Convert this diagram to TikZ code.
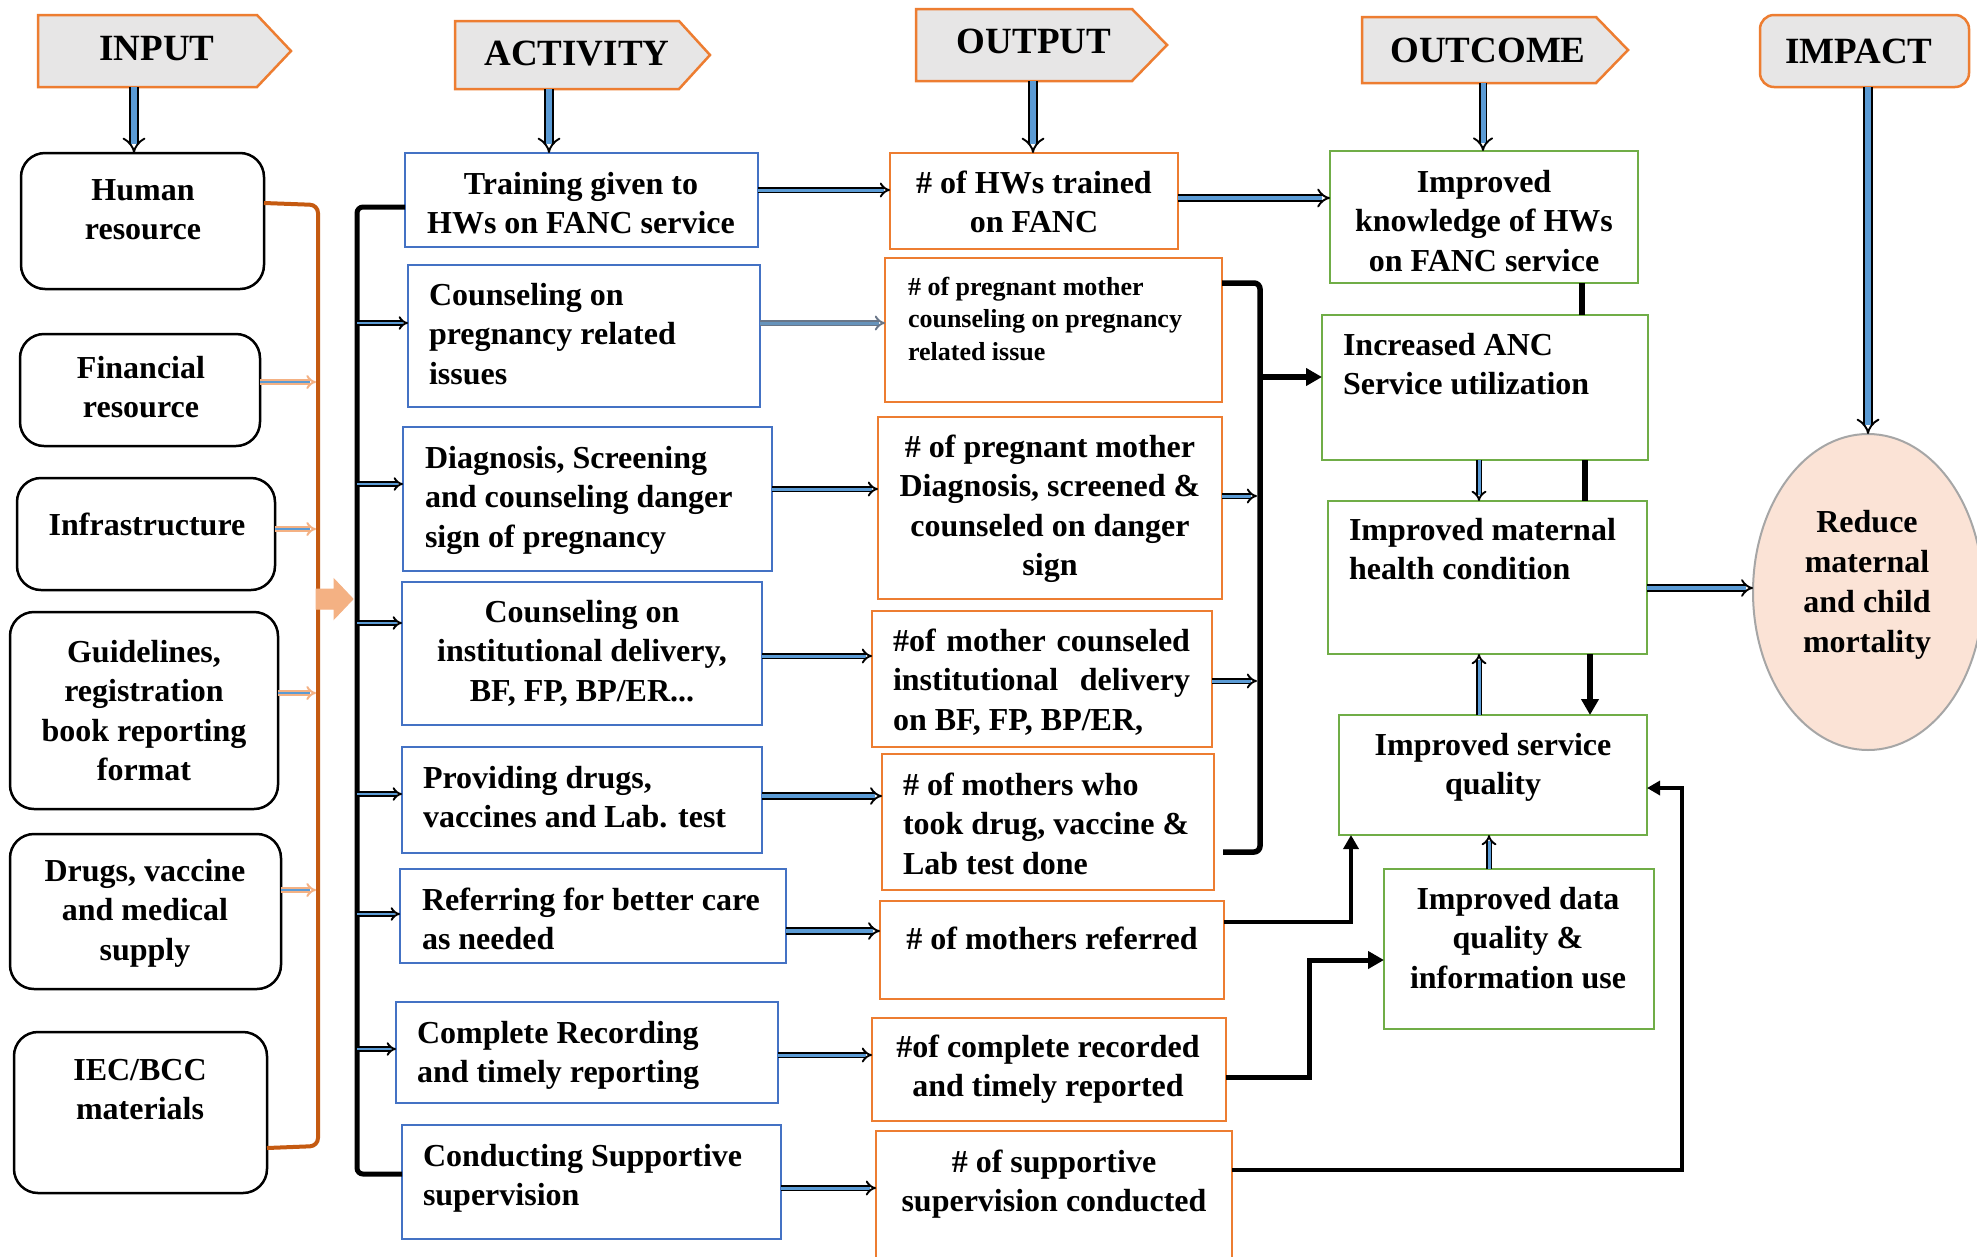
\documentclass[tikz,border=0pt]{standalone}
\usepackage{fontspec}
\setmainfont{Liberation Serif}
\usetikzlibrary{arrows.meta,shapes.geometric}

\definecolor{cBlue}{HTML}{5B9BD5}
\definecolor{cAct}{HTML}{4472C4}
\definecolor{cOut}{HTML}{ED7D31}
\definecolor{cGrn}{HTML}{70AD47}
\definecolor{cHdr}{HTML}{E7E6E6}
\definecolor{cBrk}{HTML}{C55A11}
\definecolor{cOrL}{HTML}{F4B183}
\definecolor{cPeach}{HTML}{FBE3D6}
\definecolor{cEll}{HTML}{A6A6A6}
\definecolor{cSlate}{HTML}{44546A}

\newcommand\mystrut{\rule{0pt}{0.8em}}
\newcommand\mkbox[6]{\node[#1, minimum width={(#5)-(#3)}, minimum height={(#6)-(#4)}] (#2) at ({((#3)+(#5))/2},{((#4)+(#6))/2}) {};}
\newcommand\mktxt[5]{\node[#1] (#2) at ({#3},{#4}) {\mystrut #5};}

\tikzset{
 every node/.style={inner sep=0pt, outer sep=0pt},
 inbox/.style={draw=black, line width=2.5pt, rounded corners=24pt},
 actbox/.style={draw=cAct, line width=2.5pt},
 outbox/.style={draw=cOut, line width=2.5pt},
 ocbox/.style={draw=cGrn, line width=2.5pt},
 hdr/.style={draw=cOut, fill=cHdr, line width=2.5pt},
 ttl/.style={font=\fontsize{37}{44}\selectfont\bfseries, anchor=north},
 tc/.style={font=\fontsize{32}{39.5}\selectfont\bfseries, align=center, anchor=north},
 tl/.style={font=\fontsize{32}{39.5}\selectfont\bfseries, align=left, anchor=north west},
 ts/.style={font=\fontsize{26}{32.5}\selectfont\bfseries, align=left, anchor=north west},
 barr/.style={draw=black, double=cBlue, double distance=#1, line width=1.9pt, -{Implies}},
 barr/.default=3pt,
 oarr/.style={draw=cOrL, double=cBlue, double distance=2.5pt, line width=2pt, -{Implies}},
 sarr/.style={draw=cSlate!80, double=cBlue!70!gray, double distance=3pt, line width=1.9pt, -{Implies}},
 karr/.style={draw=black, line width=#1, -{Triangle[length=16pt,width=17pt]}},
 kline/.style={draw=black, line width=#1},
}

\begin{document}
\begin{tikzpicture}[x=1pt,y=-1pt]
\fill[white] (0,0) rectangle (1977,1256);
\useasboundingbox (0,0) rectangle (1977,1256);

% headers
\draw[hdr] (38,15) -- (257,15) -- (291,51) -- (257,87) -- (38,87) -- cycle;
\draw[hdr] (455,21) -- (679,21) -- (710,55) -- (679,89) -- (455,89) -- cycle;
\draw[hdr] (916,9) -- (1132,9) -- (1167,45) -- (1132,81) -- (916,81) -- cycle;
\draw[hdr] (1362,17) -- (1596,17) -- (1628,50) -- (1596,83) -- (1362,83) -- cycle;
\node[hdr, rounded corners=14pt, minimum width=209, minimum height=72] (hImp) at (1864.5,51) {};
\mktxt{ttl}{tIn}{157}{30.4}{INPUT}
\mktxt{ttl}{tAct}{577}{35.4}{ACTIVITY}
\mktxt{ttl}{tOut}{1034}{23.4}{OUTPUT}
\mktxt{ttl}{tOc}{1488}{32.4}{OUTCOME}
\mktxt{ttl}{tImp}{1859}{33.4}{IMPACT}
\coordinate (aIn) at (134,87);
\coordinate (aAct) at (549,89);
\coordinate (aOut) at (1033,81);
\coordinate (aOc) at (1483,83);

% input boxes
\mkbox{inbox}{hum}{21}{153}{264}{289}
\mkbox{inbox}{fin}{20}{334}{260}{446}
\mkbox{inbox}{inf}{17}{478}{275}{590}
\mkbox{inbox}{gui}{10}{612}{278}{809}
\mkbox{inbox}{drg}{10}{834}{281}{989}
\mkbox{inbox}{iec}{14}{1032}{267}{1193}
\mktxt{tc}{thum}{143}{174.4}{Human\\resource}
\mktxt{tc}{tfin}{141}{352.4}{Financial\\resource}
\mktxt{tc}{tinf}{147}{509.4}{Infrastructure}
\mktxt{tc}{tgui}{144}{636.4}{Guidelines,\\registration\\book reporting\\format}
\mktxt{tc}{tdrg}{145}{855.4}{Drugs, vaccine\\and medical\\supply}
\mktxt{tc}{tiec}{140}{1054.4}{IEC/BCC\\materials}

% activity boxes
\mkbox{actbox}{a1}{405}{153}{758}{247}
\mkbox{actbox}{a2}{408}{265}{760}{407}
\mkbox{actbox}{a3}{403}{427}{772}{571}
\mkbox{actbox}{a4}{402}{582}{762}{725}
\mkbox{actbox}{a5}{402}{747}{762}{853}
\mkbox{actbox}{a6}{400}{869}{786}{963}
\mkbox{actbox}{a7}{396}{1002}{778}{1103}
\mkbox{actbox}{a8}{402}{1125}{781}{1239}
\mktxt{tc}{ta1}{581}{168.4}{Training given to\\HWs on FANC service}
\mktxt{tl}{ta2}{429}{279.4}{Counseling on\\pregnancy related\\issues}
\mktxt{tl}{ta3}{425}{442.4}{Diagnosis, Screening\\and counseling danger\\sign of pregnancy}
\mktxt{tc}{ta4}{582}{596.4}{Counseling on\\institutional delivery,\\BF, FP, BP/ER...}
\mktxt{tl}{ta5}{423}{762.4}{Providing drugs,\\vaccines and Lab. test}
\mktxt{tl}{ta6}{422}{884.4}{Referring for better care\\as needed}
\mktxt{tl}{ta7}{417}{1017.4}{Complete Recording\\and timely reporting}
\mktxt{tl}{ta8}{423}{1140.4}{Conducting Supportive\\supervision}

% output boxes
\mkbox{outbox}{o1}{890}{153}{1178}{249}
\mkbox{outbox}{o2}{885}{258}{1222}{402}
\mkbox{outbox}{o3}{878}{417}{1222}{599}
\mkbox{outbox}{o4}{872}{611}{1212}{747}
\mkbox{outbox}{o5}{882}{754}{1214}{890}
\mkbox{outbox}{o6}{880}{901}{1224}{999}
\mkbox{outbox}{o7}{872}{1018}{1226}{1121}
\mkbox{outbox}{o8}{876}{1131}{1232}{1275}
\mktxt{tc}{to1}{1034}{167.4}{\# of HWs trained\\on FANC}
\mktxt{ts}{to2}{908}{274.2}{\# of pregnant mother\\counseling on pregnancy\\related issue}
\mktxt{tc}{to3}{1050}{431.4}{\# of pregnant mother\\Diagnosis, screened \&\\counseled on danger\\sign}
\mktxt{tl}{to4}{893}{625.4}{\makebox[297pt][s]{\#of mother counseled}\\\makebox[297pt][s]{institutional delivery}\\on BF, FP, BP/ER,}
\mktxt{tl}{to5}{903}{769.4}{\# of mothers who\\took drug, vaccine \&\\Lab test done}
\mktxt{tc}{to6}{1052}{923.4}{\# of mothers referred}
\mktxt{tc}{to7}{1048}{1031.4}{\#of complete recorded\\and timely reported}
\mktxt{tc}{to8}{1054}{1146.4}{\# of supportive\\supervision conducted}

% outcome boxes
\mkbox{ocbox}{k1}{1330}{151}{1638}{283}
\mkbox{ocbox}{k2}{1322}{315}{1648}{460}
\mkbox{ocbox}{k3}{1328}{501}{1647}{654}
\mkbox{ocbox}{k4}{1339}{715}{1647}{835}
\mkbox{ocbox}{k5}{1384}{869}{1654}{1029}
\mktxt{tc}{tk1}{1484}{166.4}{Improved\\knowledge of HWs\\on FANC service}
\mktxt{tl}{tk2}{1343}{329.4}{Increased ANC\\Service utilization}
\mktxt{tl}{tk3}{1349}{514.4}{Improved maternal\\health condition}
\mktxt{tc}{tk4}{1493}{729.4}{Improved service\\quality}
\mktxt{tc}{tk5}{1518}{883.4}{Improved data\\quality \&\\information use}

% impact ellipse
\node[ellipse, draw=cEll, fill=cPeach, line width=2pt, minimum width=230, minimum height=316] (imp) at (1868,592) {};
\node[tc, font=\fontsize{32}{40}\selectfont\bfseries] (timp) at (1867,506.4) {\mystrut Reduce\\maternal\\and child\\mortality};

% header arrows
\draw[barr=6pt] (aIn) -- (aIn |- hum.north);
\draw[barr=6pt] (aAct) -- (aAct |- a1.north);
\draw[barr=6pt] (aOut) -- (aOut |- o1.north);
\draw[barr=5pt] (aOc) -- (aOc |- k1.north);
\draw[barr=6pt] (hImp.south -| imp.north) -- (imp.north);

% input bracket
\coordinate (obr) at (316,0);
\draw[cBrk, line width=4pt, rounded corners=8pt] (hum.east |- 0,203) -- (318,205) -- (318,1146) -- (iec.east |- 0,1148);
\draw[oarr] (fin.east |- 0,382) -- (obr |- 0,382);
\draw[oarr] (inf.east |- 0,529) -- (obr |- 0,529);
\draw[oarr] (gui.east |- 0,693) -- (obr |- 0,693);
\draw[oarr] (drg.east |- 0,890) -- (obr |- 0,890);
\draw[fill=cOrL, draw=cOut!60, line width=1pt] (316,589) -- (334,589) -- (334,579) -- (353,599) -- (334,619) -- (334,609) -- (316,609) -- cycle;

% activity bracket
\coordinate (kbr) at (357,0);
\draw[kline=5pt, rounded corners=6pt] (a1.west |- 0,207) -- (357,207) -- (357,1174) -- (a8.west |- 0,1174);
\draw[barr=2.5pt] (kbr |- 0,323) -- (a2.west |- 0,323);
\draw[barr=2.5pt] (kbr |- 0,484) -- (a3.west |- 0,484);
\draw[barr=2.5pt] (kbr |- 0,623) -- (a4.west |- 0,623);
\draw[barr=2.5pt] (kbr |- 0,794) -- (a5.west |- 0,794);
\draw[barr=2.5pt] (kbr |- 0,914) -- (a6.west |- 0,914);
\draw[barr=2.5pt] (kbr |- 0,1049) -- (a7.west |- 0,1049);

% activity -> output
\draw[barr] (a1.east |- 0,190) -- (o1.west |- 0,190);
\draw[sarr] (a2.east |- 0,323) -- (o2.west |- 0,323);
\draw[barr] (a3.east |- 0,489) -- (o3.west |- 0,489);
\draw[barr] (a4.east |- 0,656) -- (o4.west |- 0,656);
\draw[barr=4pt] (a5.east |- 0,796) -- (o5.west |- 0,796);
\draw[barr=4pt] (a6.east |- 0,931) -- (o6.west |- 0,931);
\draw[barr] (a7.east |- 0,1055) -- (o7.west |- 0,1055);
\draw[barr] (a8.east |- 0,1188) -- (o8.west |- 0,1188);

% output -> outcome
\draw[barr=4.5pt] (o1.east |- 0,198) -- (k1.west |- 0,198);
\coordinate (rbr) at (1260,0);
\coordinate (rbrL) at (1257,0);
\draw[kline=5.5pt, rounded corners=6pt] (o2.east |- 0,283) -- (1260,283) -- (1260,852) -- (1223,852);
\draw[karr=5.5pt] (rbr |- 0,377) -- (k2.west |- 0,377);
\draw[barr] (o3.east |- 0,496) -- (rbrL |- 0,496);
\draw[barr] (o4.east |- 0,681) -- (rbrL |- 0,681);
\draw[karr=3.5pt, -{Triangle[length=14pt,width=15pt]}] (o6.east |- 0,922) -| (k4.south -| 1351,0);
\draw[karr=5pt] (o7.east |- 0,1077) -| (1309,960) -- (k5.west |- 0,960);
\draw[karr=3.5pt, -{Triangle[length=13pt,width=14pt]}] (o8.east |- 0,1170) -| (1682,788) -- (k4.east |- 0,788);

% outcome internal
\draw[kline=5.5pt] (k1.south -| 1582,0) -- (k2.north -| 1582,0);
\draw[barr] (k2.south -| 1479,0) -- (k3.north -| 1479,0);
\draw[kline=5.5pt] (k2.south -| 1585,0) -- (k3.north -| 1585,0);
\draw[barr] (k4.north -| 1479,0) -- (k3.south -| 1479,0);
\draw[karr=5.5pt] (k3.south -| 1590,0) -- (k4.north -| 1590,0);
\draw[barr] (k5.north -| 1489,0) -- (k4.south -| 1489,0);
\draw[barr=4pt] (k3.east |- 0,588) -- (imp.west |- 0,588);
\end{tikzpicture}
\end{document}
